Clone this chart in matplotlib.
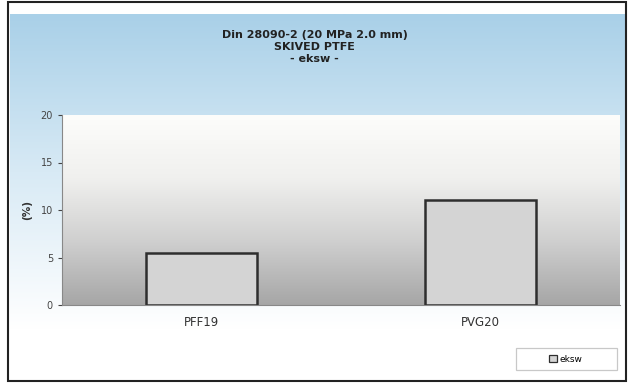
import numpy as np
import matplotlib
matplotlib.use("Agg")
from matplotlib import pyplot as plt
from matplotlib.patches import Rectangle
from matplotlib.colors import LinearSegmentedColormap

categories = ["PFF19", "PVG20"]
values = [5.5, 11.1]
series_name = "eksw"
title = "Din 28090-2 (20 MPa 2.0 mm)\nSKIVED PTFE\n- eksw -"

W, H = 629, 384
fig = plt.figure(figsize=(W / 100, H / 100), dpi=100)
fig.patch.set_facecolor("white")

# background panel (light blue fading to white)
bg = fig.add_axes([0, 0, 1, 1], zorder=0)
bg.set_xlim(0, W)
bg.set_ylim(H, 0)
bg.axis("off")
blue = LinearSegmentedColormap.from_list("b", ["#a9d0e8", "#d8eaf5", "#ffffff"])
grad = np.linspace(0, 1, 256).reshape(-1, 1)
bg.imshow(grad, cmap=blue, extent=(10, 625, 330, 14), aspect="auto")
bg.add_patch(Rectangle((8, 2), 618, 379, fill=False, ec="#222222", lw=1.5))
# legend frame
bg.add_patch(Rectangle((516, 348), 101, 22, fc="white", ec="#c8c8c8", lw=0.9))

# plot area
ax = fig.add_axes([62 / W, 1 - 305 / H, 558 / W, 190 / H], zorder=1)
ax.set_facecolor("none")
grey = LinearSegmentedColormap.from_list("g", ["#fdfdfb", "#f0f0ee", "#cfcfcf", "#a6a6a6"])
ax.imshow(grad, cmap=grey, extent=(-0.5, 1.5, 0, 20), aspect="auto", zorder=0)

x = np.arange(len(categories))
ax.bar(x, values, width=0.4, color="#d4d4d4", edgecolor="#2e2e2e", lw=1.8, zorder=2,
       label=series_name)
ax.set_xlim(-0.5, 1.5)
ax.set_ylim(0, 20)
ax.set_yticks([0, 5, 10, 15, 20])
ax.set_xticks(x)
ax.set_xticklabels(categories)
ax.tick_params(axis="x", length=0, pad=8, labelsize=8.5, colors="#333333")
ax.tick_params(axis="y", length=3, labelsize=7, colors="#444444", direction="out")
for s in ["top", "right"]:
    ax.spines[s].set_visible(False)
ax.spines["left"].set_color("#888888")
ax.spines["bottom"].set_color("#888888")
ax.set_ylabel("(%)", fontsize=7.5, fontweight="bold", color="#333333", labelpad=6)

fig.text(0.5, 1 - 47 / H, title, ha="center", va="center", fontsize=8,
         fontweight="bold", color="#222222", linespacing=1.25)

leg = ax.legend(loc="center", bbox_to_anchor=(566 / W, 1 - 359 / H), bbox_transform=fig.transFigure,
                fontsize=6.5, frameon=False, handlelength=0.9, handleheight=0.9,
                handletextpad=0.3, borderaxespad=0)
for h in leg.legend_handles:
    h.set_linewidth(0.9)

fig.savefig("out.png", dpi=100)
